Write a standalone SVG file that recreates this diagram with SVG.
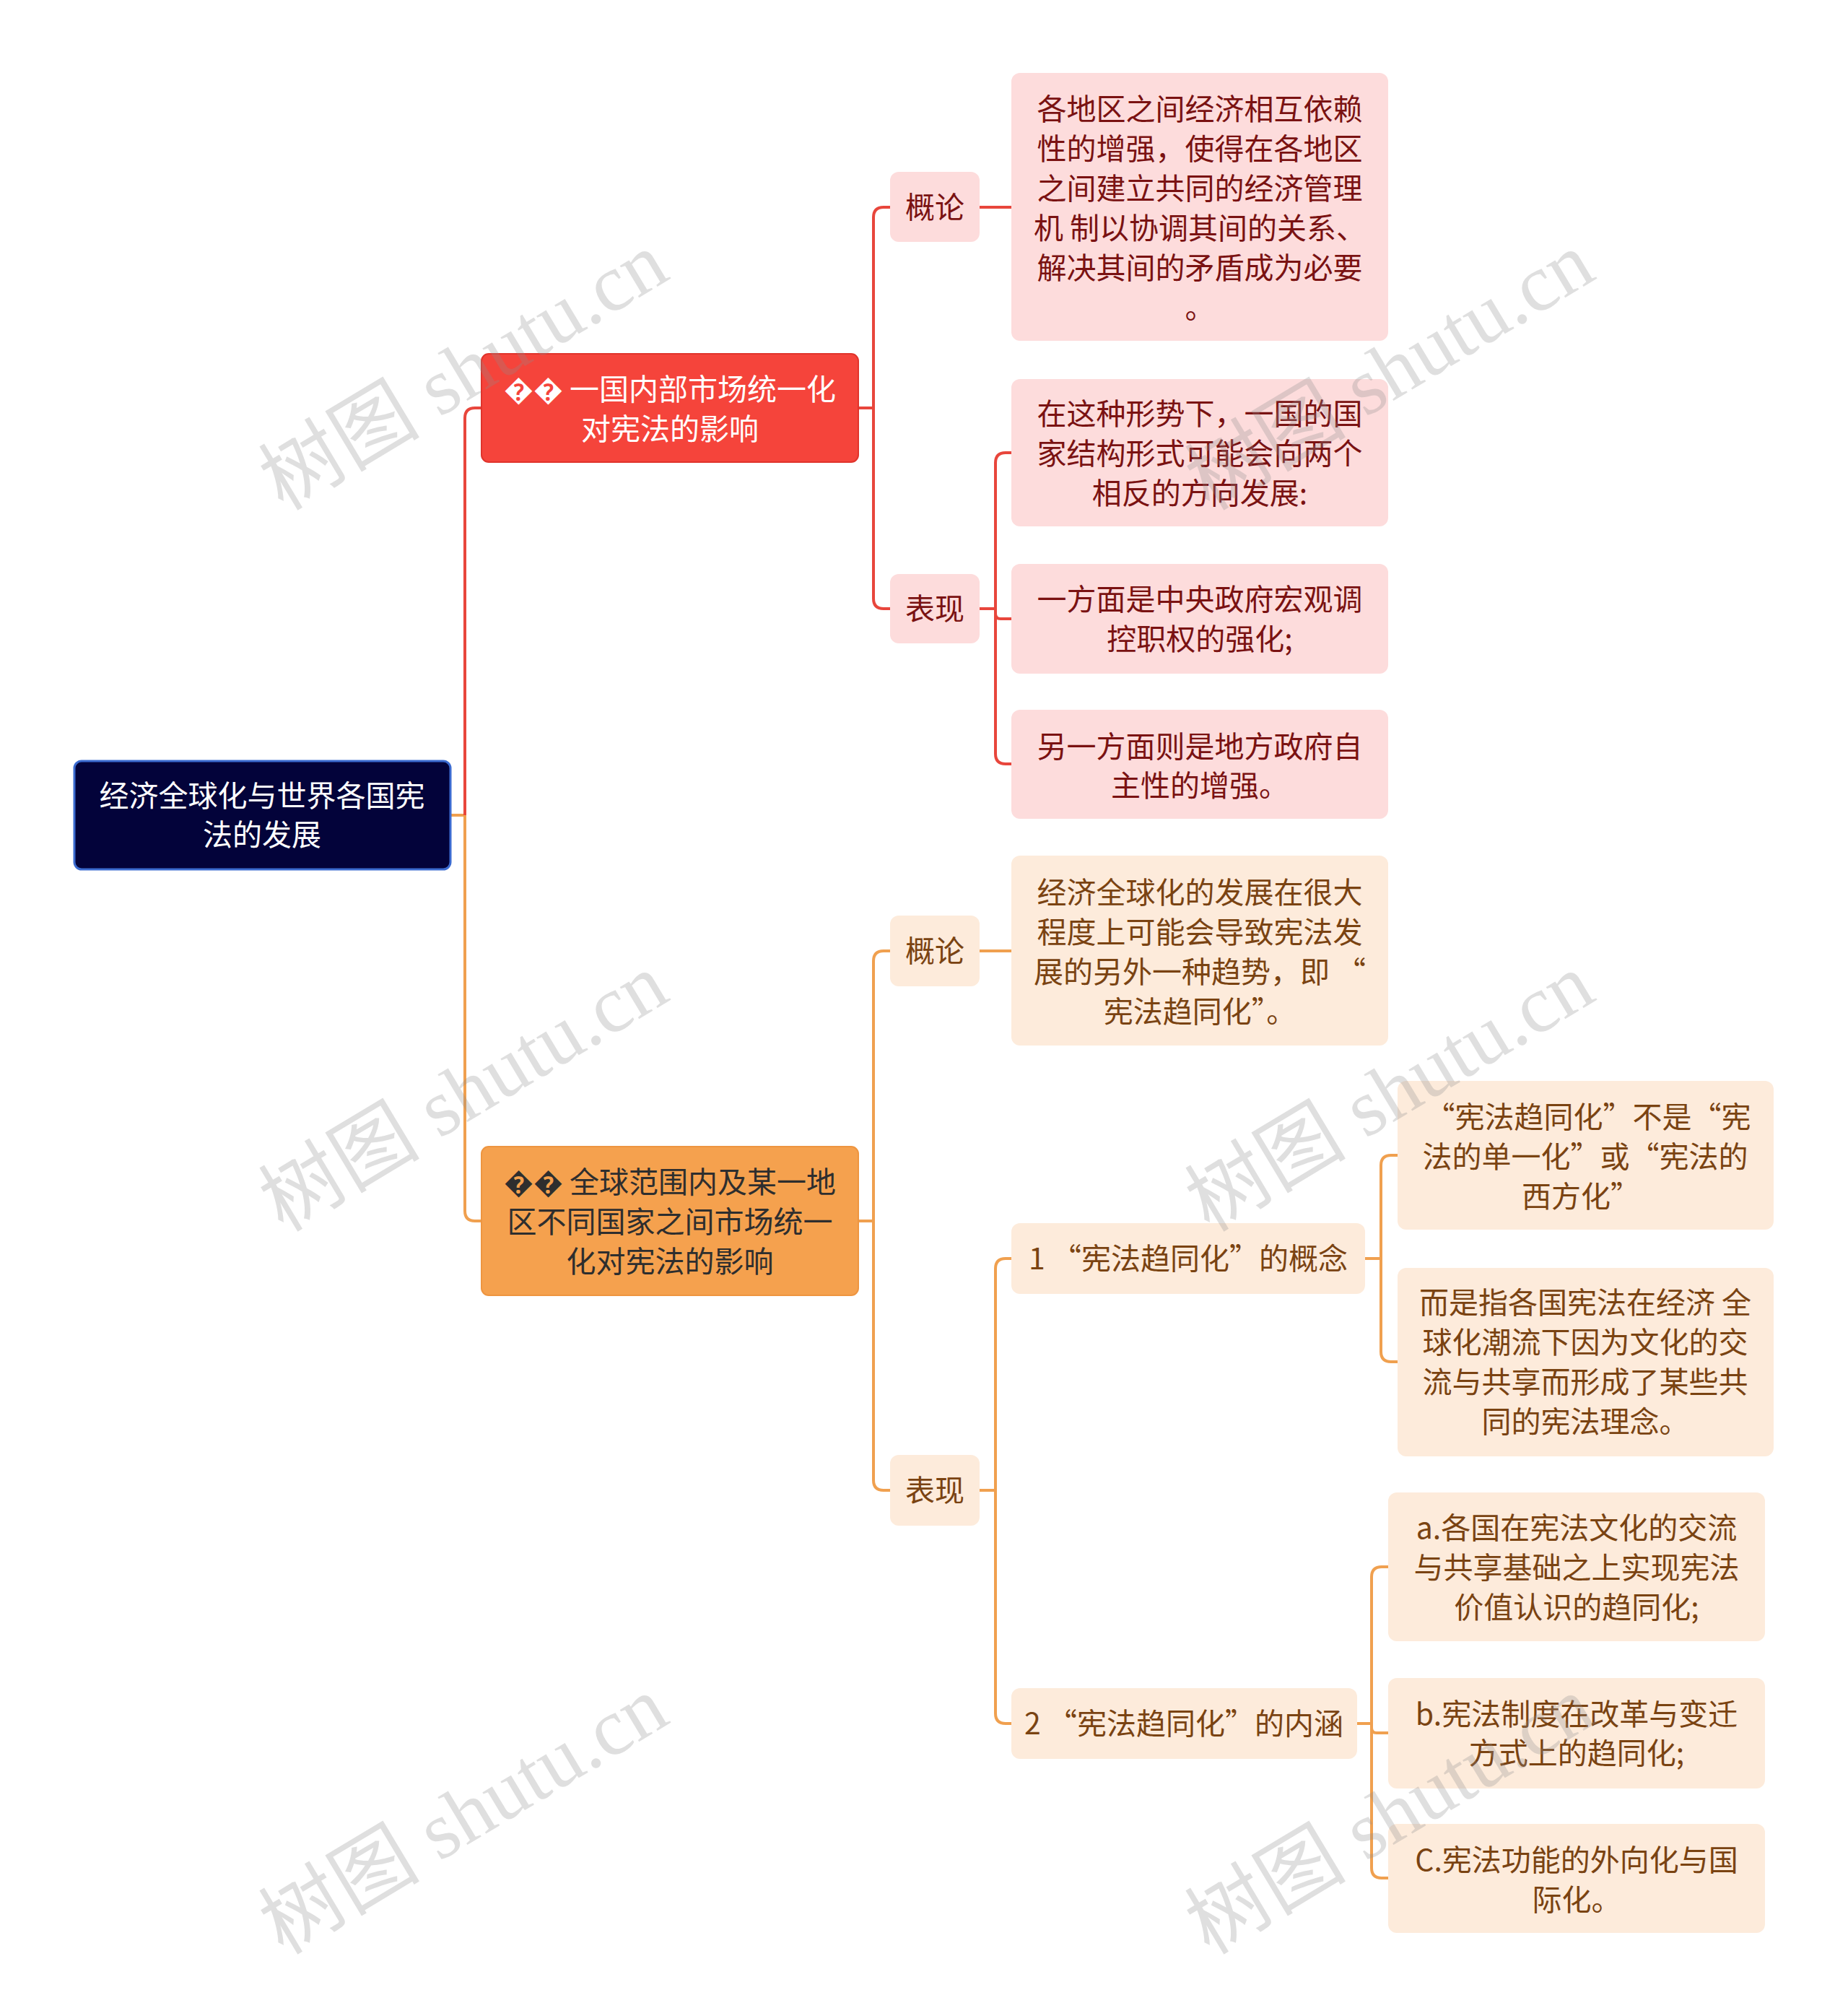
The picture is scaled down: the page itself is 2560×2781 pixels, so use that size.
<svg xmlns="http://www.w3.org/2000/svg" width="2560" height="2781" viewBox="0 0 2560 2781">
<style>
text{font-family:"Noto Sans CJK SC","Noto Sans",sans-serif;font-size:41px;text-anchor:middle;dominant-baseline:central}
.node text{transform:translateY(-3px)}
.root rect{fill:#03033a;stroke:#3b6bd0;stroke-width:3}
.root text{fill:#ffffff}
.l1r rect{fill:#f5443b;stroke:#e0342c;stroke-width:2}
.l1r text{fill:#ffffff}
.l1o rect{fill:#f5a14e;stroke:#ee9540;stroke-width:2}
.l1o text{fill:#2e2e2e}
.r rect{fill:#fddcdc}
.r text{fill:#7a1212}
.o rect{fill:#fdebdb}
.o text{fill:#7a4312}
.cr{fill:none;stroke:#e8463c;stroke-width:4}
.co{fill:none;stroke:#f0a04f;stroke-width:4}
.wm{font-family:"Liberation Serif","Noto Sans CJK SC",serif;font-size:112px;fill:#8c8c8c;fill-opacity:0.28;text-anchor:middle;dominant-baseline:central}
</style>
<rect width="2560" height="2781" fill="#ffffff"/>
<g id="connectors">
<path class="co" d="M624,1129 H644"/>
<path class="cr" d="M644,1129 V579 Q644,565 658,565 H667"/>
<path class="co" d="M644,1129 V1677 Q644,1691 658,1691 H667"/>
<path class="cr" d="M1189,565 H1210"/>
<path class="cr" d="M1210,565 V301 Q1210,287 1224,287 H1233"/>
<path class="cr" d="M1210,565 V829 Q1210,843 1224,843 H1233"/>
<path class="cr" d="M1357,287 H1401"/>
<path class="cr" d="M1357,843 H1379"/>
<path class="cr" d="M1379,843 V641 Q1379,627 1393,627 H1401"/>
<path class="cr" d="M1379,843 V850 Q1379,857 1386,857 H1401"/>
<path class="cr" d="M1379,843 V1044 Q1379,1058 1393,1058 H1401"/>
<path class="co" d="M1189,1691 H1210"/>
<path class="co" d="M1210,1691 V1331 Q1210,1317 1224,1317 H1233"/>
<path class="co" d="M1210,1691 V2050 Q1210,2064 1224,2064 H1233"/>
<path class="co" d="M1357,1317 H1401"/>
<path class="co" d="M1357,2064 H1379"/>
<path class="co" d="M1379,2064 V1757 Q1379,1743 1393,1743 H1401"/>
<path class="co" d="M1379,2064 V2373 Q1379,2387 1393,2387 H1401"/>
<path class="co" d="M1891,1743 H1913"/>
<path class="co" d="M1913,1743 V1614 Q1913,1600 1927,1600 H1936"/>
<path class="co" d="M1913,1743 V1872 Q1913,1886 1927,1886 H1936"/>
<path class="co" d="M1880,2387 H1900"/>
<path class="co" d="M1900,2387 V2184 Q1900,2170 1914,2170 H1923"/>
<path class="co" d="M1900,2387 V2393 Q1900,2400 1907,2400 H1923"/>
<path class="co" d="M1900,2387 V2587 Q1900,2601 1914,2601 H1923"/>
</g>
<g id="root" class="node root">
<rect x="103" y="1054" width="521" height="150" rx="10"/>
<text x="363" y="1102">经济全球化与世界各国宪</text>
<text x="363" y="1156">法的发展</text>
</g>
<g id="n-red" class="node l1r">
<rect x="667" y="490" width="522" height="150" rx="10"/>
<text x="928" y="539">&#xFFFD;&#xFFFD; 一国内部市场统一化</text>
<text x="928" y="594">对宪法的影响</text>
</g>
<g id="n-red-gl" class="node r">
<rect x="1233" y="238" width="124" height="97" rx="12"/>
<text x="1295" y="287">概论</text>
</g>
<g id="n-red-gl-1" class="node r">
<rect x="1401" y="101" width="522" height="371" rx="12"/>
<text x="1662" y="151">各地区之间经济相互依赖</text>
<text x="1662" y="206">性的增强，使得在各地区</text>
<text x="1662" y="261">之间建立共同的经济管理</text>
<text x="1662" y="316">机 制以协调其间的关系、</text>
<text x="1662" y="371">解决其间的矛盾成为必要</text>
<text x="1662" y="426">。</text>
</g>
<g id="n-red-bx" class="node r">
<rect x="1233" y="795" width="124" height="96" rx="12"/>
<text x="1295" y="843">表现</text>
</g>
<g id="n-red-bx-1" class="node r">
<rect x="1401" y="525" width="522" height="204" rx="12"/>
<text x="1662" y="573">在这种形势下，一国的国</text>
<text x="1662" y="628">家结构形式可能会向两个</text>
<text x="1662" y="683">相反的方向发展:</text>
</g>
<g id="n-red-bx-2" class="node r">
<rect x="1401" y="781" width="522" height="152" rx="12"/>
<text x="1662" y="830">一方面是中央政府宏观调</text>
<text x="1662" y="885">控职权的强化;</text>
</g>
<g id="n-red-bx-3" class="node r">
<rect x="1401" y="983" width="522" height="151" rx="12"/>
<text x="1662" y="1034">另一方面则是地方政府自</text>
<text x="1662" y="1088">主性的增强。</text>
</g>
<g id="n-org" class="node l1o">
<rect x="667" y="1588" width="522" height="206" rx="10"/>
<text x="928" y="1637">&#xFFFD;&#xFFFD; 全球范围内及某一地</text>
<text x="928" y="1692">区不同国家之间市场统一</text>
<text x="928" y="1747">化对宪法的影响</text>
</g>
<g id="n-org-gl" class="node o">
<rect x="1233" y="1268" width="124" height="98" rx="12"/>
<text x="1295" y="1317">概论</text>
</g>
<g id="n-org-gl-1" class="node o">
<rect x="1401" y="1185" width="522" height="263" rx="12"/>
<text x="1662" y="1236">经济全球化的发展在很大</text>
<text x="1662" y="1291">程度上可能会导致宪法发</text>
<text x="1662" y="1346">展的另外一种趋势，即 “</text>
<text x="1662" y="1401">宪法趋同化”。</text>
</g>
<g id="n-org-bx" class="node o">
<rect x="1233" y="2015" width="124" height="98" rx="12"/>
<text x="1295" y="2064">表现</text>
</g>
<g id="n-org-bx-1" class="node o">
<rect x="1401" y="1694" width="490" height="98" rx="12"/>
<text x="1646" y="1743">1 “宪法趋同化”的概念</text>
</g>
<g id="n-org-bx-1a" class="node o">
<rect x="1936" y="1497" width="521" height="206" rx="12"/>
<text x="2200" y="1547"> “宪法趋同化”不是“宪</text>
<text x="2196" y="1602">法的单一化”或“宪法的</text>
<text x="2190" y="1657">西方化”</text>
</g>
<g id="n-org-bx-1b" class="node o">
<rect x="1936" y="1756" width="521" height="261" rx="12"/>
<text x="2196" y="1804">而是指各国宪法在经济 全</text>
<text x="2196" y="1859">球化潮流下因为文化的交</text>
<text x="2196" y="1914">流与共享而形成了某些共</text>
<text x="2196" y="1969">同的宪法理念。</text>
</g>
<g id="n-org-bx-2" class="node o">
<rect x="1401" y="2338" width="479" height="98" rx="12"/>
<text x="1640" y="2387">2 “宪法趋同化”的内涵</text>
</g>
<g id="n-org-bx-2a" class="node o">
<rect x="1923" y="2067" width="522" height="206" rx="12"/>
<text x="2184" y="2116">a.各国在宪法文化的交流</text>
<text x="2184" y="2171">与共享基础之上实现宪法</text>
<text x="2184" y="2226">价值认识的趋同化;</text>
</g>
<g id="n-org-bx-2b" class="node o">
<rect x="1923" y="2324" width="522" height="153" rx="12"/>
<text x="2184" y="2374">b.宪法制度在改革与变迁</text>
<text x="2184" y="2428">方式上的趋同化;</text>
</g>
<g id="n-org-bx-2c" class="node o">
<rect x="1923" y="2526" width="522" height="151" rx="12"/>
<text x="2184" y="2576">C.宪法功能的外向化与国</text>
<text x="2184" y="2631">际化。</text>
</g>
<g id="watermarks">
<text class="wm" transform="translate(642,514) rotate(-31)">树图 shutu.cn</text>
<text class="wm" transform="translate(1925,514) rotate(-31)">树图 shutu.cn</text>
<text class="wm" transform="translate(642,1513) rotate(-31)">树图 shutu.cn</text>
<text class="wm" transform="translate(1925,1513) rotate(-31)">树图 shutu.cn</text>
<text class="wm" transform="translate(642,2514) rotate(-31)">树图 shutu.cn</text>
<text class="wm" transform="translate(1925,2514) rotate(-31)">树图 shutu.cn</text>
</g>
</svg>
